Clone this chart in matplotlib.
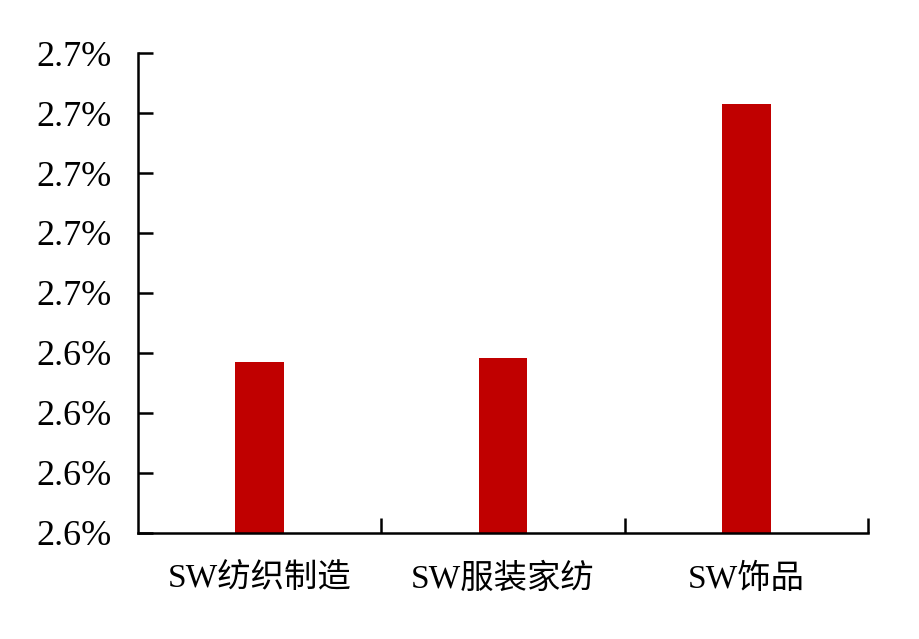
import matplotlib
matplotlib.use('Agg')
import matplotlib.pyplot as plt

# data (values in %)
categories = ['SW纺织制造', 'SW服装家纺', 'SW饰品']
values = [2.6485, 2.6492, 2.6915]
yticks = [2.62, 2.63, 2.64, 2.65, 2.66, 2.67, 2.68, 2.69, 2.70]
ytick_labels = ['2.6%', '2.6%', '2.6%', '2.6%', '2.7%', '2.7%', '2.7%', '2.7%', '2.7%']

plt.rcParams['font.family'] = ['Liberation Serif', 'Noto Sans CJK SC', 'DejaVu Sans']

fig = plt.figure(figsize=(9.19, 6.39), dpi=100)
ax = fig.add_axes([0.150, 0.166, 0.7945, 0.751])

x = list(range(len(categories)))
ax.bar(x, values, width=0.2, color='#C00000')

ax.set_xlim(-0.5, len(categories) - 0.5)
ax.set_ylim(yticks[0], yticks[-1])
ax.set_yticks(yticks)
ax.set_yticklabels(ytick_labels, fontsize=26)

# category labels at centers, ticks at boundaries
ax.set_xticks(x)
ax.set_xticklabels(categories, fontsize=24)
ax.tick_params(axis='x', which='major', length=0, pad=22)
ax.set_xticks([0.5, 1.5, 2.5], minor=True)
ax.tick_params(axis='x', which='minor', direction='in', length=11, width=1.8)
ax.tick_params(axis='y', direction='in', length=11, width=1.8, pad=19)

for side in ['top', 'right']:
    ax.spines[side].set_visible(False)
for side in ['left', 'bottom']:
    ax.spines[side].set_linewidth(1.8)

fig.savefig('out.png', dpi=100)
